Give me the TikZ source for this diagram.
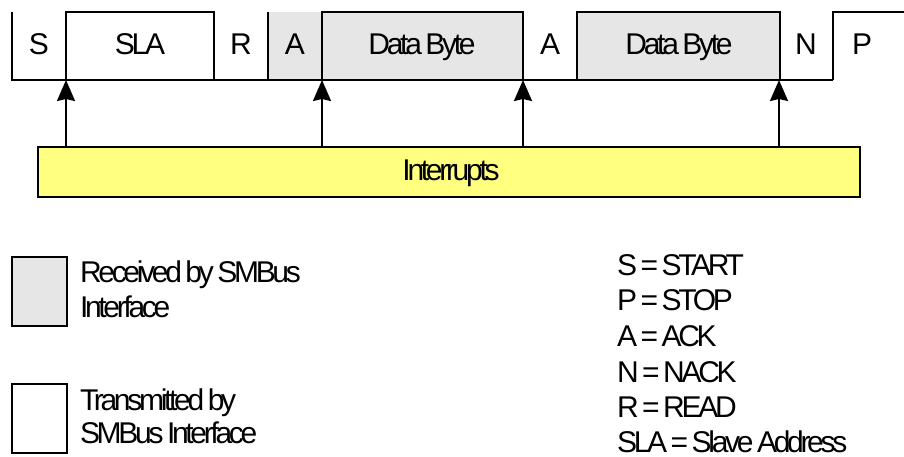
\documentclass[tikz,border=0pt]{standalone}
\usepackage{fontspec}
\setmainfont{Liberation Sans}[LetterSpace=-11.0,WordSpace=0.7]
\usetikzlibrary{arrows.meta}
\definecolor{rxgray}{RGB}{230,230,230}
\definecolor{intyellow}{RGB}{255,255,128}
\begin{document}
\begin{tikzpicture}[x=1pt,y=-1pt,line width=2pt,
  lbl/.style={inner sep=0pt,anchor=base,font=\fontsize{30}{36}\selectfont},
  lgd/.style={inner sep=0pt,anchor=base west,font=\fontsize{30}{36}\selectfont},
  intarrow/.style={-{Stealth[length=21pt,width=18pt,inset=2pt]},line width=2pt}]
\useasboundingbox (0,0) rectangle (904,457);
% received (gray) fields
\fill[rxgray] (268,12) rectangle (523,80);
\fill[rxgray] (577,12) rectangle (780,80);
% frame lines
\draw (12,12) -- (12,80) -- (833,80);
\draw (66,80) -- (66,12) -- (214,12) -- (214,80);
\draw (268,12) -- (268,80);
\draw (322,80) -- (322,12) -- (523,12) -- (523,80);
\draw (577,80) -- (577,12) -- (780,12) -- (780,80);
\draw (833,80) -- (833,12) -- (904,12);
% field labels
\node[lbl] (tS) at (39,55) {S};
\node[lbl] (tSLA) at (140,55) {SLA};
\node[lbl] (tR) at (241,55) {R};
\node[lbl] (tA1) at (295,55) {A};
\node[lbl] (tD1) at (422,55) {Data Byte};
\node[lbl] (tA2) at (550,55) {A};
\node[lbl] (tD2) at (679,55) {Data Byte};
\node[lbl] (tN) at (806,55) {N};
\node[lbl] (tP) at (862,55) {P};
% interrupt points
\coordinate (i1) at (66,80);
\coordinate (i2) at (322,80);
\coordinate (i3) at (523,80);
\coordinate (i4) at (779,80);
% interrupts bar
\draw[fill=intyellow] (38,147) rectangle (860,197);
\coordinate (intstop) at (0,147);
\node[lbl] (ints) at (451,181) {Interrupts};
\foreach \p in {i1,i2,i3,i4}
  \draw[intarrow] (\p |- intstop) -- (\p);
% legend boxes
\draw[fill=rxgray] (12,257) rectangle (67,326);
\draw (12,384) rectangle (67,453);
\node[lgd] (r1) at (79,282) {Received by SMBus};
\node[lgd] (r2) at (79,317) {Interface};
\node[lgd] (t1) at (79,410) {Transmitted by};
\node[lgd] (t2) at (79,443) {SMBus Interface};
% abbreviations
\node[lgd] (k1) at (616,275) {S = START};
\node[lgd] (k2) at (616,310) {P = STOP};
\node[lgd] (k3) at (616,346) {A = ACK};
\node[lgd] (k4) at (616,382) {N = NACK};
\node[lgd] (k5) at (616,417) {R = READ};
\node[lgd] (k6) at (616,452) {SLA = Slave Address};
\end{tikzpicture}
\end{document}
